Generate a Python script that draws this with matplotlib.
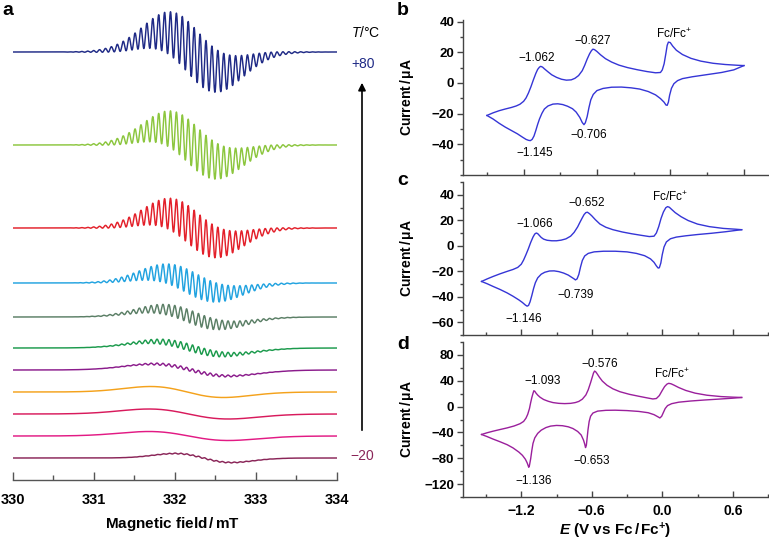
import numpy as np
import matplotlib.pyplot as plt
from matplotlib.ticker import MultipleLocator

plt.rcParams['font.family'] = ['Liberation Sans', 'DejaVu Sans']
plt.rcParams['mathtext.fontset'] = 'custom'
plt.rcParams['mathtext.rm'] = 'Liberation Sans'
plt.rcParams['mathtext.it'] = 'Liberation Sans:italic'
plt.rcParams['mathtext.bf'] = 'Liberation Sans:bold'
try:
    plt.rcParams['mathtext.bfit'] = 'Liberation Sans:bold:italic'
except KeyError:
    pass

# ---- panel a: EPR spectra, +80 (top) ... -20 (bottom) ----
epr_colors = ['#1f2a86', '#8cc63e', '#e3202a', '#22a3e0', '#5b7f66', '#1b9a4c',
              '#8b1c8c', '#f4a21c', '#d81a5c', '#e21a84', '#8a2558']
epr_baseline = [428, 335, 252, 197, 163, 132, 110, 88, 66, 44, 22]
epr_broad_amp = [20, 17, 15, 10, 8, 6.5, 6, 5.5, 5, 4.5, 4.5]
epr_hf_amp = [26, 22, 19, 12, 6.5, 3.5, 1.5, 0, 0, 0, 0.6]
epr_center = [332.22, 332.22, 332.22, 332.2, 332.2, 332.2, 332.2, 332.15, 332.17, 332.17, 332.35]
epr_width = [0.38, 0.38, 0.38, 0.4, 0.42, 0.45, 0.47, 0.45, 0.49, 0.49, 0.35]
hf_spacing = 0.073
hf_width = 0.47
field_lim = (330, 334)

# ---- panels b-d: cyclic voltammograms (E in V, I in uA) ----
b_up = [(-1.50, -21.2), (-1.45, -19.5), (-1.40, -18.1), (-1.35, -17.0), (-1.30, -16.0),
        (-1.26, -15.0), (-1.23, -13.9), (-1.20, -12.0), (-1.18, -9.8), (-1.16, -6.5),
        (-1.14, -2.5), (-1.12, 2.0), (-1.10, 6.2), (-1.085, 8.8), (-1.07, 10.3), (-1.06, 10.8),
        (-1.045, 10.3), (-1.03, 9.2), (-1.00, 7.2), (-0.97, 5.3), (-0.93, 3.6), (-0.89, 2.4),
        (-0.85, 1.8), (-0.81, 2.0), (-0.78, 3.0), (-0.75, 4.8), (-0.72, 8.0), (-0.70, 11.5),
        (-0.68, 15.5), (-0.66, 19.0), (-0.645, 21.0), (-0.633, 22.0), (-0.62, 21.7),
        (-0.60, 20.5), (-0.57, 18.3), (-0.53, 15.8), (-0.48, 13.6), (-0.42, 11.6),
        (-0.35, 10.0), (-0.27, 8.6), (-0.19, 7.4), (-0.12, 6.6), (-0.08, 6.8), (-0.065, 8.5),
        (-0.05, 12.5), (-0.035, 19.5), (-0.025, 24.5), (-0.015, 26.6), (0.00, 26.3),
        (0.02, 24.0), (0.05, 21.3), (0.10, 18.5), (0.17, 16.0), (0.25, 14.2), (0.35, 12.8),
        (0.45, 12.0), (0.55, 11.5), (0.603, 11.3)]
b_dn = [(-1.50, -21.2), (-1.45, -23.5), (-1.40, -26.3), (-1.35, -28.8), (-1.30, -31.0),
        (-1.25, -33.2), (-1.21, -35.3), (-1.18, -36.8), (-1.16, -37.4), (-1.145, -37.6),
        (-1.13, -36.8), (-1.115, -34.6), (-1.10, -31.0), (-1.085, -27.0), (-1.07, -23.5),
        (-1.05, -19.8), (-1.03, -17.0), (-1.00, -15.0), (-0.96, -13.8), (-0.92, -13.6),
        (-0.88, -14.1), (-0.84, -15.2), (-0.80, -16.8), (-0.77, -19.0), (-0.74, -22.5),
        (-0.72, -25.8), (-0.706, -27.2), (-0.695, -26.0), (-0.68, -22.0), (-0.665, -16.0),
        (-0.65, -11.0), (-0.63, -7.5), (-0.60, -5.0), (-0.55, -3.6), (-0.48, -2.8),
        (-0.40, -2.7), (-0.32, -3.2), (-0.25, -4.0), (-0.18, -5.6), (-0.12, -7.8),
        (-0.08, -10.2), (-0.05, -12.6), (-0.035, -14.4), (-0.025, -14.6), (-0.015, -12.5),
        (-0.005, -8.0), (0.01, -3.5), (0.03, -0.5), (0.06, 1.5), (0.10, 2.8), (0.18, 4.0),
        (0.30, 5.4), (0.42, 6.8), (0.52, 8.5), (0.603, 11.3)]

c_up = [(-1.538, -28.0), (-1.49, -26.0), (-1.44, -24.1), (-1.38, -22.0), (-1.32, -20.1),
        (-1.27, -18.6), (-1.23, -17.0), (-1.20, -14.5), (-1.18, -11.2), (-1.16, -7.0),
        (-1.14, -2.5), (-1.12, 2.5), (-1.10, 6.8), (-1.085, 9.2), (-1.072, 10.0), (-1.06, 9.5),
        (-1.045, 8.0), (-1.03, 6.5), (-1.01, 5.2), (-0.98, 4.3), (-0.94, 3.9), (-0.90, 3.9),
        (-0.86, 4.4), (-0.82, 5.4), (-0.78, 7.5), (-0.75, 10.5), (-0.72, 14.8), (-0.70, 18.5),
        (-0.68, 22.0), (-0.665, 24.5), (-0.650, 26.0), (-0.637, 26.3), (-0.62, 25.2),
        (-0.60, 23.5), (-0.57, 20.5), (-0.53, 17.0), (-0.48, 14.5), (-0.42, 12.6),
        (-0.34, 10.8), (-0.26, 9.4), (-0.18, 8.2), (-0.11, 7.2), (-0.07, 7.5), (-0.05, 10.0),
        (-0.03, 15.0), (-0.01, 21.5), (0.01, 26.5), (0.03, 29.8), (0.045, 30.7), (0.06, 30.2),
        (0.08, 28.5), (0.11, 26.0), (0.16, 22.8), (0.22, 19.8), (0.30, 17.0), (0.40, 15.0),
        (0.52, 13.6), (0.62, 13.0), (0.676, 12.6)]
c_dn = [(-1.538, -28.0), (-1.49, -29.8), (-1.44, -31.9), (-1.38, -34.3), (-1.32, -37.0),
        (-1.27, -39.6), (-1.22, -42.5), (-1.19, -44.5), (-1.165, -46.5), (-1.15, -47.4),
        (-1.138, -46.8), (-1.125, -44.0), (-1.11, -39.0), (-1.095, -33.5), (-1.08, -29.0),
        (-1.06, -25.2), (-1.03, -22.3), (-1.00, -20.8), (-0.96, -19.8), (-0.92, -19.7),
        (-0.88, -20.3), (-0.84, -21.4), (-0.80, -23.0), (-0.77, -24.8), (-0.75, -26.0),
        (-0.739, -26.8), (-0.725, -26.0), (-0.71, -22.5), (-0.695, -16.5), (-0.68, -11.5),
        (-0.66, -8.0), (-0.63, -6.0), (-0.58, -4.8), (-0.50, -4.3), (-0.40, -4.3),
        (-0.30, -4.8), (-0.22, -6.0), (-0.15, -7.8), (-0.10, -10.3), (-0.07, -13.0),
        (-0.05, -15.8), (-0.035, -17.5), (-0.025, -17.3), (-0.012, -13.5), (0.00, -7.0),
        (0.015, -1.0), (0.035, 3.0), (0.07, 5.5), (0.12, 6.8), (0.20, 7.8), (0.30, 8.8),
        (0.42, 9.8), (0.54, 11.0), (0.676, 12.6)]

d_up = [(-1.538, -43.2), (-1.49, -40.5), (-1.44, -38.1), (-1.38, -35.5), (-1.32, -33.0),
        (-1.26, -30.0), (-1.21, -26.5), (-1.18, -23.0), (-1.16, -18.0), (-1.145, -12.0),
        (-1.13, -3.0), (-1.12, 6.0), (-1.11, 14.0), (-1.10, 20.5), (-1.093, 24.5),
        (-1.085, 23.8), (-1.075, 21.0), (-1.06, 17.8), (-1.04, 14.5), (-1.01, 11.0),
        (-0.97, 8.2), (-0.93, 6.2), (-0.88, 5.0), (-0.83, 4.6), (-0.78, 5.0), (-0.74, 6.2),
        (-0.71, 8.0), (-0.68, 11.5), (-0.65, 18.0), (-0.63, 26.0), (-0.61, 37.0),
        (-0.595, 46.0), (-0.585, 52.0), (-0.576, 55.0), (-0.567, 54.0), (-0.555, 51.0),
        (-0.535, 45.5), (-0.51, 39.5), (-0.47, 33.0), (-0.42, 27.5), (-0.36, 23.0),
        (-0.28, 19.0), (-0.20, 16.0), (-0.13, 13.5), (-0.08, 11.8), (-0.05, 12.5),
        (-0.025, 17.0), (0.00, 25.0), (0.02, 31.0), (0.04, 34.8), (0.055, 36.0),
        (0.075, 35.3), (0.10, 33.2), (0.14, 29.5), (0.20, 25.0), (0.28, 20.8), (0.38, 17.6),
        (0.50, 15.5), (0.60, 14.6), (0.676, 14.1)]
d_dn = [(-1.538, -43.2), (-1.49, -46.5), (-1.44, -50.3), (-1.38, -54.5), (-1.32, -59.0),
        (-1.27, -64.0), (-1.22, -70.5), (-1.19, -75.5), (-1.165, -81.5), (-1.15, -87.0),
        (-1.14, -92.0), (-1.136, -94.0), (-1.13, -91.0), (-1.12, -81.0), (-1.11, -68.0),
        (-1.10, -57.0), (-1.085, -48.5), (-1.06, -41.5), (-1.03, -36.5), (-0.99, -32.5),
        (-0.95, -30.2), (-0.90, -29.2), (-0.85, -29.6), (-0.80, -31.3), (-0.76, -34.0),
        (-0.72, -38.5), (-0.69, -44.0), (-0.67, -52.0), (-0.66, -58.0), (-0.653, -63.5),
        (-0.646, -60.0), (-0.64, -50.0), (-0.632, -36.0), (-0.622, -23.0), (-0.61, -15.0),
        (-0.59, -10.0), (-0.55, -7.0), (-0.48, -5.8), (-0.40, -5.6), (-0.30, -6.2),
        (-0.20, -7.5), (-0.12, -9.5), (-0.07, -12.5), (-0.04, -15.5), (-0.02, -17.6),
        (-0.005, -15.0), (0.01, -9.0), (0.025, -3.0), (0.045, 1.5), (0.08, 4.5), (0.14, 6.8),
        (0.24, 8.6), (0.36, 10.2), (0.50, 11.8), (0.60, 13.0), (0.676, 14.1)]

cv_panels = [
    dict(letter='b', color='#3535d6', up=b_up, dn=b_dn,
         ylim=(-60, 41), yticks=[-40, -20, 0, 20, 40], ymin=10, xlim=(-1.7, 0.8),
         labels=[('\u22121.062', -1.095, 12.5, 'bottom'), ('\u22120.627', -0.633, 23.5, 'bottom'),
                 ('Fc/Fc$^{+}$', 0.033, 27.0, 'bottom'), ('\u22121.145', -1.108, -42.0, 'top'),
                 ('\u22120.706', -0.666, -30.0, 'top')]),
    dict(letter='c', color='#3535d6', up=c_up, dn=c_dn,
         ylim=(-70, 50), yticks=[-60, -40, -20, 0, 20, 40], ymin=10, xlim=(-1.7, 0.9),
         labels=[('\u22121.066', -1.085, 12.5, 'bottom'), ('\u22120.652', -0.644, 29.0, 'bottom'),
                 ('Fc/Fc$^{+}$', 0.065, 33.0, 'bottom'), ('\u22121.146', -1.178, -53.0, 'top'),
                 ('\u22120.739', -0.735, -34.0, 'top')]),
    dict(letter='d', color='#9a1f9c', up=d_up, dn=d_dn,
         ylim=(-140, 100), yticks=[-120, -80, -40, 0, 40, 80], ymin=20, xlim=(-1.7, 0.9),
         labels=[('\u22121.093', -1.022, 31.0, 'bottom'), ('\u22120.576', -0.531, 57.0, 'bottom'),
                 ('Fc/Fc$^{+}$', 0.08, 40.0, 'bottom'), ('\u22121.136', -1.091, -106.0, 'top'),
                 ('\u22120.653', -0.602, -75.0, 'top')]),
]
cv_xticks = [-1.2, -0.6, 0.0, 0.6]

W, H = 769, 540
fig = plt.figure(figsize=(W / 100, H / 100), dpi=100)

def fx(px):
    return px / W

def fy(py):
    return 1 - py / H

# ---------- panel a ----------
axa = fig.add_axes([fx(12.7), fy(480), fx(337) - fx(12.7), fy(0) - fy(480)])
B = np.linspace(field_lim[0], field_lim[1], 6001)
for col, base, D, Hh, c, w in zip(epr_colors, epr_baseline, epr_broad_amp, epr_hf_amp,
                                  epr_center, epr_width):
    u = (B - c) / w
    broad = -u * np.exp(0.5 - u ** 2 / 2)
    env = np.exp(-((B - c) / hf_width) ** 2 / 2)
    y = base + D * broad + Hh * env * np.sin(2 * np.pi * (B - c) / hf_spacing)
    axa.plot(B, y, color=col, lw=1.05)
axa.set_xlim(field_lim)
axa.set_ylim(0, 480)
for s in ['left', 'right', 'top']:
    axa.spines[s].set_visible(False)
axa.spines['bottom'].set_color('#555555')
axa.spines['bottom'].set_linewidth(1.0)
axa.set_yticks([])
axa.xaxis.set_major_locator(MultipleLocator(1))
axa.xaxis.set_minor_locator(MultipleLocator(0.5))
axa.tick_params(axis='x', which='major', direction='in', length=6, width=1.0,
                color='#555555', pad=9, labelsize=10.5)
axa.tick_params(axis='x', which='minor', direction='in', length=3.5, width=1.0, color='#555555')
for lab in axa.get_xticklabels():
    lab.set_fontweight('bold')
fig.text(fx(172), fy(528), 'Magnetic field$\\,$/$\\,$mT', ha='center', va='baseline',
         fontsize=11, fontweight='bold')

fig.text(fx(2), fy(15), 'a', fontsize=14, fontweight='bold', va='baseline')
fig.text(fx(366), fy(37), '$\\mathit{T}$/°C', ha='center', va='baseline', fontsize=10)
fig.text(fx(363), fy(68), '+80', ha='center', va='baseline', fontsize=10, color=epr_colors[0])
fig.text(fx(362), fy(460), '\u221220', ha='center', va='baseline', fontsize=10, color=epr_colors[-1])
axa.annotate('', xy=(fx(362), fy(80)), xytext=(fx(362), fy(433)),
             xycoords='figure fraction', textcoords='figure fraction',
             arrowprops=dict(arrowstyle='-|>', color='black', lw=1.2, mutation_scale=11),
             annotation_clip=False)

# ---------- panels b-d ----------
boxes = [(20, 175), (182, 335), (342, 497)]
letter_base = [15, 185, 349]
for p, (top, bot), lb in zip(cv_panels, boxes, letter_base):
    ax = fig.add_axes([fx(462.5), fy(bot), fx(768) - fx(462.5), fy(top) - fy(bot)])
    for branch in (p['up'], p['dn']):
        ax.plot([e for e, i in branch], [i for e, i in branch], color=p['color'], lw=1.0)
    ax.set_xlim(p['xlim'])
    ax.set_ylim(p['ylim'])
    for s in ['right', 'top']:
        ax.spines[s].set_visible(False)
    for s in ['left', 'bottom']:
        ax.spines[s].set_color('#444444')
        ax.spines[s].set_linewidth(1.0)
    ax.set_yticks(p['yticks'])
    ax.yaxis.set_minor_locator(MultipleLocator(p['ymin']))
    ax.set_xticks(cv_xticks)
    ax.xaxis.set_minor_locator(MultipleLocator(0.3))
    ax.tick_params(axis='y', which='major', direction='out', length=4, width=1.0,
                   color='#444444', pad=2, labelsize=9.5)
    ax.tick_params(axis='y', which='minor', direction='out', length=2, width=1.0, color='#444444')
    ax.tick_params(axis='x', which='major', direction='in', length=4, width=1.0,
                   color='#444444', pad=5, labelsize=10)
    ax.tick_params(axis='x', which='minor', direction='in', length=2.5, width=1.0, color='#444444')
    if p['letter'] != 'd':
        ax.set_xticklabels([])
    else:
        ax.set_xticklabels(['\u22121.2', '\u22120.6', '0.0', '0.6'])
        ax.set_xlabel('$\\mathbfit{E}$ (V vs Fc$\\,$/$\\,$Fc$^{\\mathbf{+}}$)',
                      fontsize=11, fontweight='bold', labelpad=2)
    ax.set_yticklabels(['\u2212%d' % -v if v < 0 else '%d' % v for v in p['yticks']])
    for lab in ax.get_xticklabels() + ax.get_yticklabels():
        lab.set_fontweight('bold')
    ax.set_ylabel('Current$\\,$/$\\,$μA', fontsize=10, fontweight='bold')
    ax.yaxis.set_label_coords(-0.152, 0.5)
    for txt, ex, iy, va in p['labels']:
        ax.text(ex, iy, txt, ha='center', va=va, fontsize=8.5)
    fig.text(fx(397), fy(lb), p['letter'], fontsize=14, fontweight='bold', va='baseline')

fig.savefig('out.png', dpi=100)
